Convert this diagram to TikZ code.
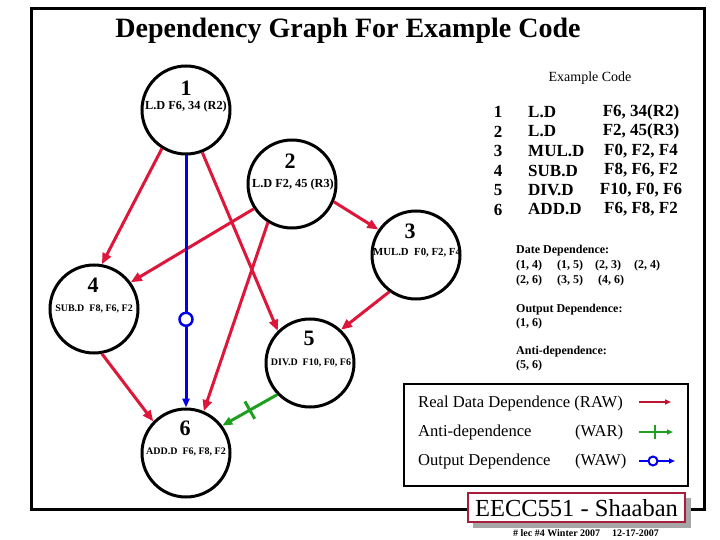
\documentclass[tikz,border=0pt]{standalone}
\usepackage{fontspec}
\setmainfont{Liberation Serif}
\usetikzlibrary{arrows.meta,calc}
\definecolor{rawred}{RGB}{222,22,58}
\definecolor{depblue}{RGB}{0,0,235}
\definecolor{depgreen}{RGB}{30,160,30}
\definecolor{legred}{RGB}{190,20,50}
\definecolor{boxred}{RGB}{165,30,60}
\begin{document}
\begin{tikzpicture}[x=1pt,y=-1pt,
  gnode/.style={circle,draw=black,line width=3pt,minimum size=88pt,inner sep=0pt},
  num/.style={font=\fontsize{22}{24}\selectfont\bfseries,inner sep=0pt},
  lab/.style={font=\fontsize{10}{12}\selectfont\bfseries,inner sep=0pt},
  labbig/.style={font=\fontsize{12.3}{14}\selectfont\bfseries,inner sep=0pt},
  raw/.style={draw=rawred,line width=3pt,-{Triangle[length=11pt,width=9pt]}},
  waw/.style={draw=depblue,line width=3pt,-{Triangle[length=9pt,width=7pt]}},
  war/.style={draw=depgreen,line width=3pt,-{Triangle[length=10pt,width=8pt]}},
  codet/.style={font=\fontsize{17}{19}\selectfont\bfseries,inner sep=0pt},
  dept/.style={font=\fontsize{12}{14}\selectfont\bfseries,inner sep=0pt,anchor=west},
  legt/.style={font=\fontsize{16.6}{18}\selectfont,inner sep=0pt,anchor=west}
]
\useasboundingbox (0,0) rectangle (720,540);
\fill[white] (0,0) rectangle (720,540);
% frame
\draw[line width=3pt] (31,9) rectangle (704,509);
\node[font=\fontsize{28}{30}\selectfont\bfseries,inner sep=0pt] (title) at (348,31) {Dependency Graph For Example Code};

% graph nodes
\node[gnode] (n1) at (186,110) {};
\node[gnode] (n2) at (292,184) {};
\node[gnode] (n3) at (416,255) {};
\node[gnode] (n4) at (94,309) {};
\node[gnode] (n5) at (310,363) {};
\node[gnode] (n6) at (186,453) {};

\node[num] (t1) at (186,88) {1};
\node[labbig] (l1) at (186,107) {L.D F6, 34 (R2)};
\node[num] (t2) at (290,161) {2};
\node[labbig] (l2) at (293,185) {L.D F2, 45 (R3)};
\node[num] (t3) at (410,231) {3};
\node[lab,font=\fontsize{10.8}{12}\selectfont\bfseries] (l3) at (417,253) {MUL.D\ \ F0, F2, F4};
\node[num] (t4) at (93,285) {4};
\node[lab] (l4) at (94,309) {SUB.D\ \ F8, F6, F2};
\node[num] (t5) at (309,338) {5};
\node[lab] (l5) at (311,363) {DIV.D\ \ F10, F0, F6};
\node[num] (t6) at (185,428) {6};
\node[lab] (l6) at (186,452) {ADD.D\ \ F6, F8, F2};

% edges
\draw[raw] (n1.238) -- (n4.80);
\draw[raw] (n1.291) -- (n5.135);
\draw[raw] (n2.213) -- (n4.36);
\draw[raw] (n2.238) -- (n6.67);
\draw[raw] (n2.337) -- (n3.146);
\draw[raw] (n3.234) -- (n5.47);
\draw[raw] (n4.280) -- (n6.136);
\draw[waw] (n1.270) -- node[pos=0.65,circle,draw=depblue,fill=white,line width=2.5pt,minimum size=13pt,inner sep=0pt] (wawmark) {} (n6.90);
\draw[war] (n5.224) -- coordinate[pos=0.5] (gx) (n6.37);
\draw[draw=depgreen,line width=3pt] ($(gx)!10pt!90:(n6.37)$) -- ($(gx)!10pt!-90:(n6.37)$);

% example code
\node[font=\fontsize{14}{16}\selectfont,inner sep=0pt] (ex) at (590,78) {Example Code};
\foreach \i/\op/\args in {1/L.D/{F6, 34(R2)},2/L.D/{F2, 45(R3)},3/MUL.D/{F0, F2, F4},4/SUB.D/{F8, F6, F2},5/DIV.D/{F10, F0, F6},6/ADD.D/{F6, F8, F2}}{
  \node[codet] (cn\i) at (498,{112+19.5*(\i-1)}) {\i};
  \node[codet,anchor=west] (co\i) at (528,{112+19.5*(\i-1)}) {\op};
  \node[codet] (ca\i) at (641,{112+19.5*(\i-1)}) {\args};
}

% dependence lists
\node[dept] (dd) at (516,251) {Date Dependence:};
\node[dept] (d14) at (516,266) {(1, 4)};
\node[dept] (d15) at (557,266) {(1, 5)};
\node[dept] (d23) at (595,266) {(2, 3)};
\node[dept] (d24) at (634,266) {(2, 4)};
\node[dept] (d26) at (516,281) {(2, 6)};
\node[dept] (d35) at (557,281) {(3, 5)};
\node[dept] (d46) at (598,281) {(4, 6)};
\node[dept] (od) at (516,310) {Output Dependence:};
\node[dept] (o16) at (516,324) {(1, 6)};
\node[dept] (ad) at (516,352) {Anti-dependence:};
\node[dept] (a56) at (516,366) {(5, 6)};

% legend
\draw[line width=2.5pt,fill=white] (404,384) rectangle (688,486);
\node[legt] (lg1) at (418,404) {Real Data Dependence (RAW)};
\node[legt] (lg2) at (418,433) {Anti-dependence};
\node[legt] (lg2b) at (575,433) {(WAR)};
\node[legt] (lg3) at (418,462) {Output Dependence};
\node[legt] (lg3b) at (575,462) {(WAW)};
\coordinate (r1) at (639,402); \coordinate (r2) at (671,402);
\coordinate (g1) at (639,432); \coordinate (g2) at (673,432);
\coordinate (b1) at (639,461); \coordinate (b2) at (675,461);
\draw[legred,line width=2pt,-{Triangle[length=6pt,width=5pt]}] (r1) -- (r2);
\draw[depgreen,line width=2pt,-{Triangle[length=6pt,width=5pt]}] (g1) -- (g2);
\draw[depgreen,line width=2pt] (655,425) -- (655,439);
\draw[depblue,line width=2pt,-{Triangle[length=6pt,width=5pt]}] (b1) -- (b2);
\draw[depblue,line width=2pt,fill=white] (653,461) circle (4.5pt);

% signature box
\fill[gray!70] (473,498) rectangle (691,528);
\draw[boxred,line width=2pt,fill=white] (468,493) rectangle (685,522);
\node[font=\fontsize{24.5}{26}\selectfont,inner sep=0pt] (sig) at (576.5,508) {EECC551 - Shaaban};
\node[font=\fontsize{10}{11}\selectfont\bfseries,inner sep=0pt,anchor=west] (foot) at (513,533) {\# lec \#4 Winter 2007\hspace{12pt}12-17-2007};
\end{tikzpicture}
\end{document}
